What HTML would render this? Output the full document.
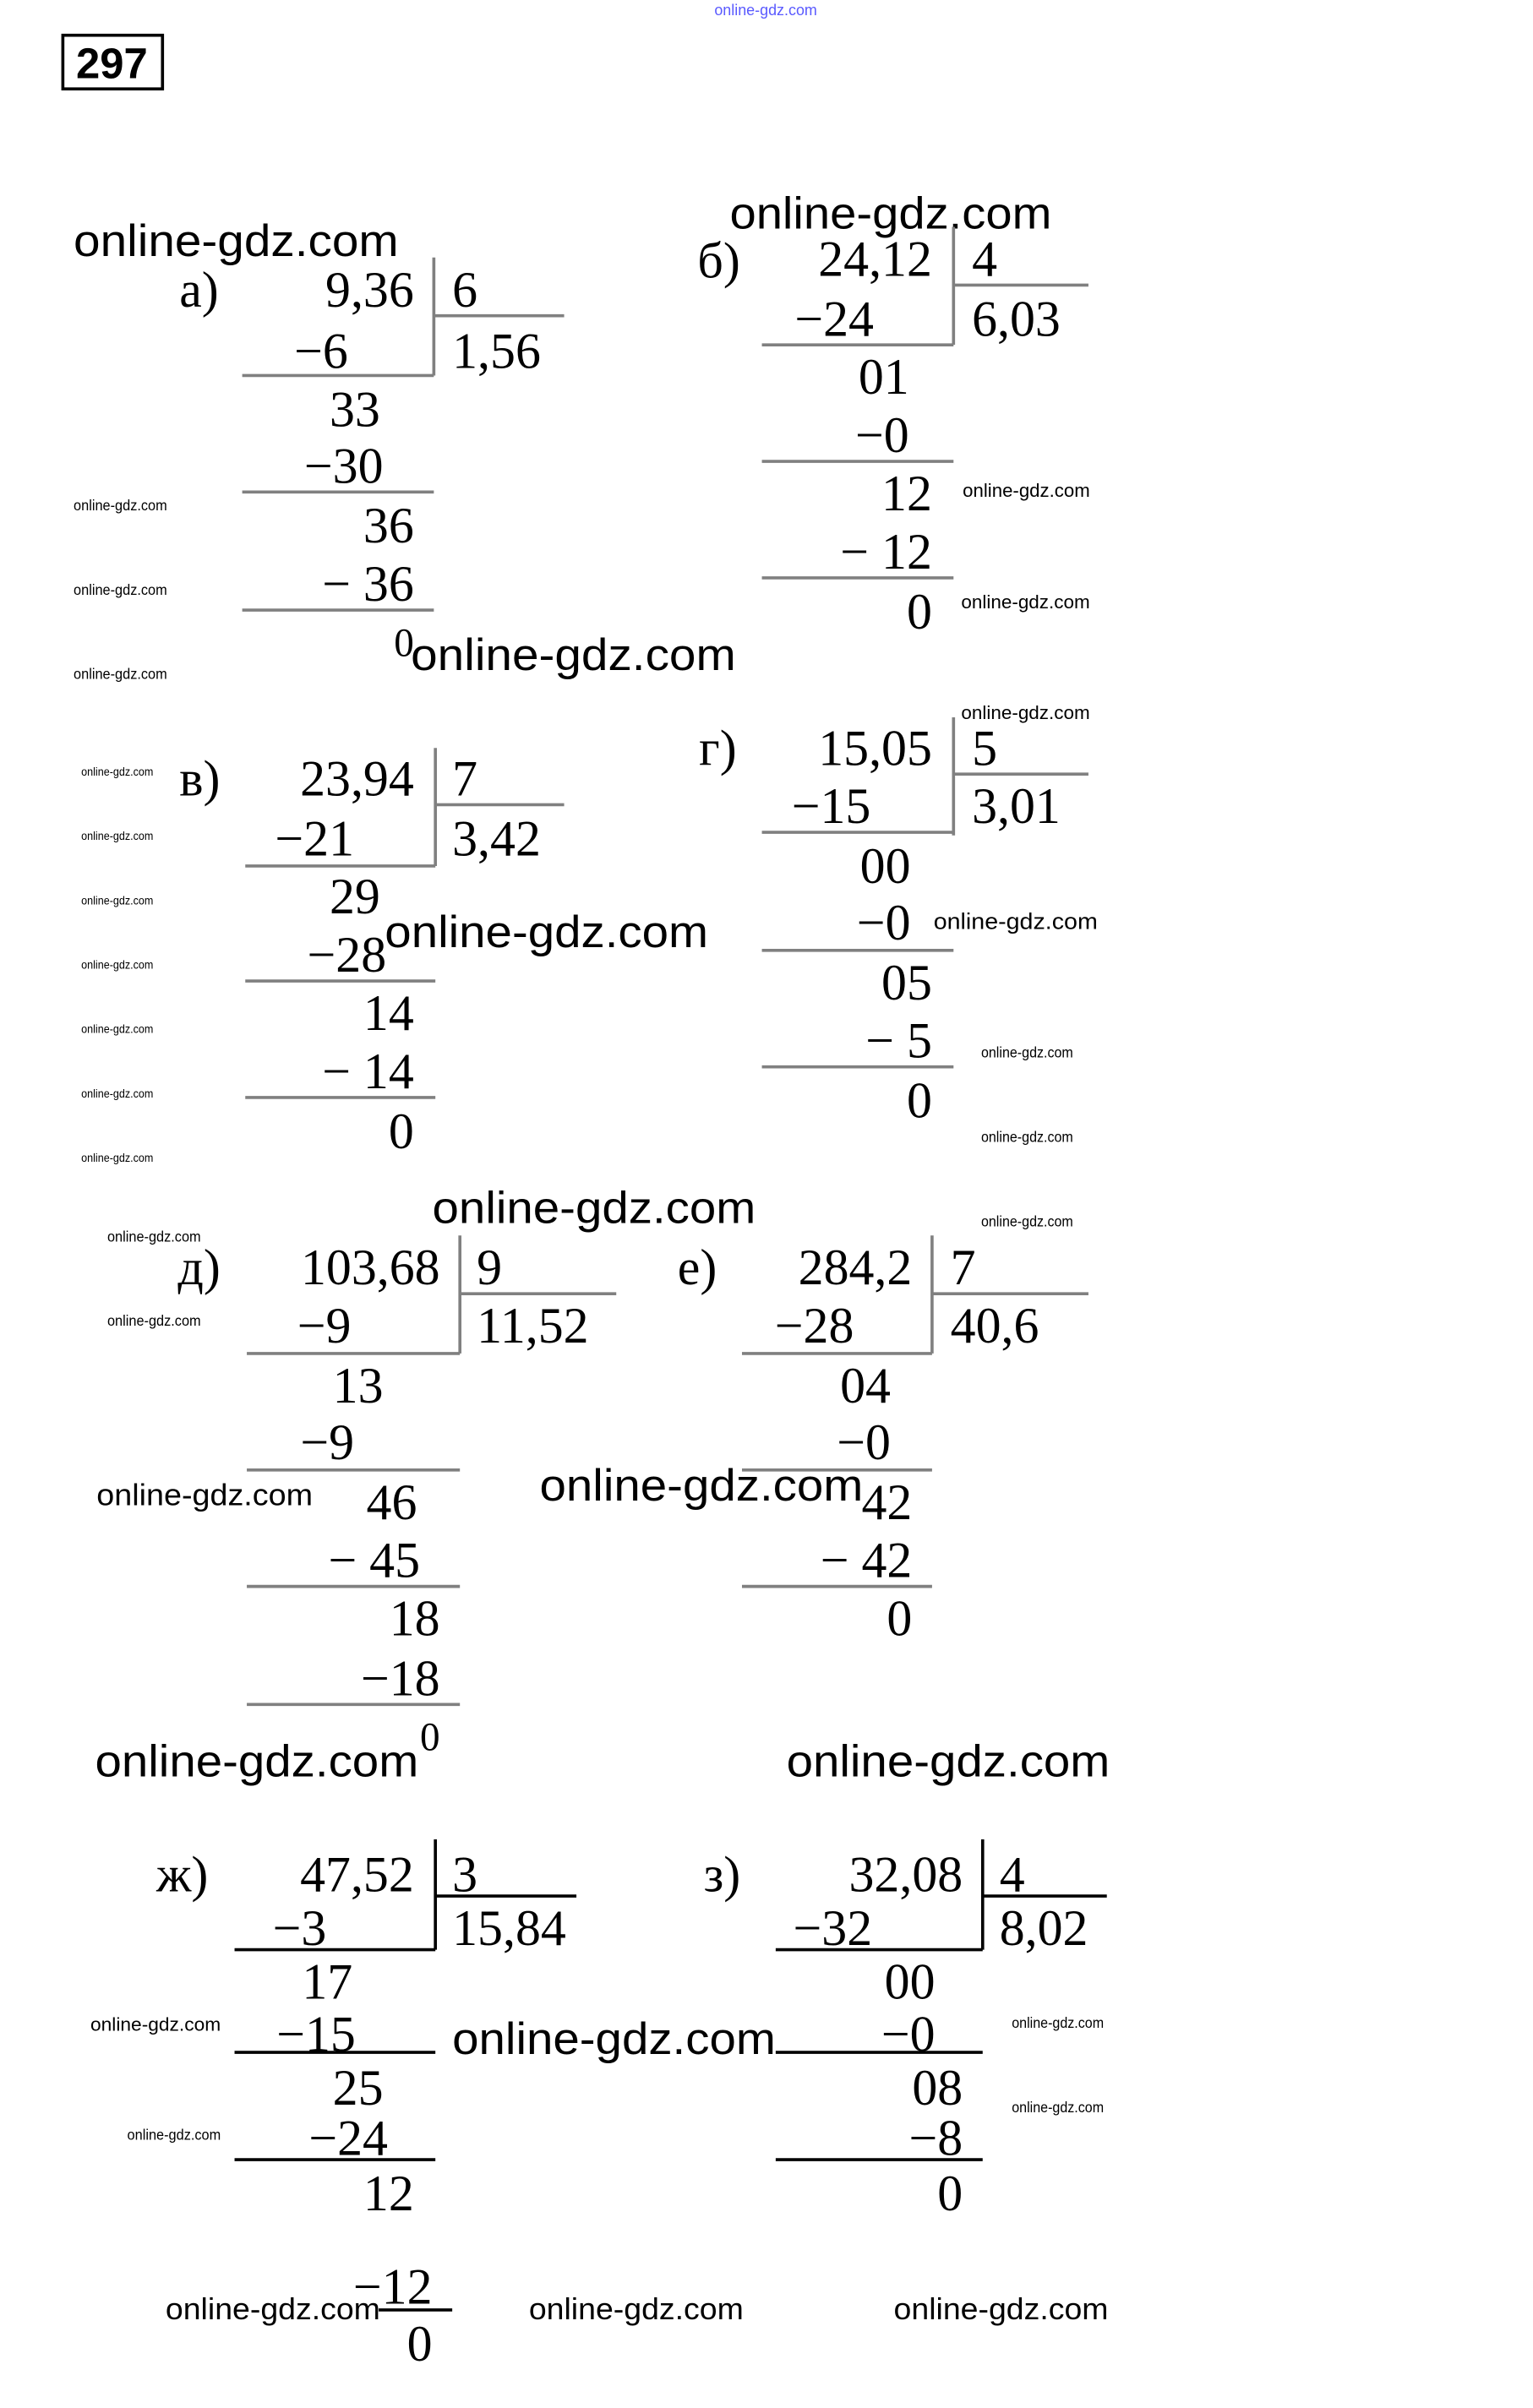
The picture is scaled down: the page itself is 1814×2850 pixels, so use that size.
<!DOCTYPE html>
<html><head><meta charset="utf-8"><style>
html,body{margin:0;padding:0;background:#fff;}
svg{display:block}
.n{font-family:"Liberation Serif",serif;font-size:33px;fill:#000}
.w{font-family:"Liberation Sans",sans-serif;fill:#000}
.g{stroke:#808080;stroke-width:2;fill:none}
.k{stroke:#000;stroke-width:2;fill:none}
</style></head><body>
<svg width="1814" height="2850" viewBox="0 0 1000 1571" preserveAspectRatio="none" xmlns="http://www.w3.org/2000/svg">
<rect width="1000" height="1571" fill="#fff"/>
<text class="w" x="466" y="10" font-size="10" fill="#5a5aff" style="fill:#5a5aff" textLength="67" lengthAdjust="spacingAndGlyphs">online-gdz.com</text>
<rect x="41" y="23" width="65" height="35" fill="none" stroke="#000" stroke-width="2"/>
<text x="73" y="51" text-anchor="middle" font-family="Liberation Sans, sans-serif" font-weight="bold" font-size="28">297</text>

<!-- big watermarks -->
<g class="w" font-size="29">
<text x="48" y="167" textLength="212" lengthAdjust="spacingAndGlyphs">online-gdz.com</text>
<text x="476" y="149" textLength="210" lengthAdjust="spacingAndGlyphs">online-gdz.com</text>
<text x="268" y="437" textLength="212" lengthAdjust="spacingAndGlyphs">online-gdz.com</text>
<text x="251" y="618" textLength="211" lengthAdjust="spacingAndGlyphs">online-gdz.com</text>
<text x="282" y="798" textLength="211" lengthAdjust="spacingAndGlyphs">online-gdz.com</text>
<text x="352" y="979" textLength="211" lengthAdjust="spacingAndGlyphs">online-gdz.com</text>
<text x="62" y="1159" textLength="211" lengthAdjust="spacingAndGlyphs">online-gdz.com</text>
<text x="513" y="1159" textLength="211" lengthAdjust="spacingAndGlyphs">online-gdz.com</text>
<text x="295" y="1340" textLength="211" lengthAdjust="spacingAndGlyphs">online-gdz.com</text>
</g>
<g class="w" font-size="20">
<text x="63" y="982" textLength="141" lengthAdjust="spacingAndGlyphs">online-gdz.com</text>
<text x="108" y="1513" textLength="140" lengthAdjust="spacingAndGlyphs">online-gdz.com</text>
<text x="345" y="1513" textLength="140" lengthAdjust="spacingAndGlyphs">online-gdz.com</text>
<text x="583" y="1513" textLength="140" lengthAdjust="spacingAndGlyphs">online-gdz.com</text>
</g>
<g class="w" font-size="15">
<text x="609" y="606" textLength="107" lengthAdjust="spacingAndGlyphs">online-gdz.com</text>
</g>
<g class="w" font-size="12">
<text x="628" y="324" textLength="83" lengthAdjust="spacingAndGlyphs">online-gdz.com</text>
<text x="627" y="397" textLength="84" lengthAdjust="spacingAndGlyphs">online-gdz.com</text>
<text x="627" y="469" textLength="84" lengthAdjust="spacingAndGlyphs">online-gdz.com</text>
<text x="59" y="1325" textLength="85" lengthAdjust="spacingAndGlyphs">online-gdz.com</text>
</g>
<g class="w" font-size="9.5">
<text x="48" y="333" textLength="61" lengthAdjust="spacingAndGlyphs">online-gdz.com</text>
<text x="48" y="388" textLength="61" lengthAdjust="spacingAndGlyphs">online-gdz.com</text>
<text x="48" y="443" textLength="61" lengthAdjust="spacingAndGlyphs">online-gdz.com</text>
<text x="640" y="690" textLength="60" lengthAdjust="spacingAndGlyphs">online-gdz.com</text>
<text x="640" y="745" textLength="60" lengthAdjust="spacingAndGlyphs">online-gdz.com</text>
<text x="640" y="800" textLength="60" lengthAdjust="spacingAndGlyphs">online-gdz.com</text>
<text x="70" y="810" textLength="61" lengthAdjust="spacingAndGlyphs">online-gdz.com</text>
<text x="70" y="865" textLength="61" lengthAdjust="spacingAndGlyphs">online-gdz.com</text>
<text x="83" y="1396" textLength="61" lengthAdjust="spacingAndGlyphs">online-gdz.com</text>
<text x="660" y="1323" textLength="60" lengthAdjust="spacingAndGlyphs">online-gdz.com</text>
<text x="660" y="1378" textLength="60" lengthAdjust="spacingAndGlyphs">online-gdz.com</text>
</g>
<g class="w" font-size="7.5">
<text x="53" y="506" textLength="47" lengthAdjust="spacingAndGlyphs">online-gdz.com</text>
<text x="53" y="548" textLength="47" lengthAdjust="spacingAndGlyphs">online-gdz.com</text>
<text x="53" y="590" textLength="47" lengthAdjust="spacingAndGlyphs">online-gdz.com</text>
<text x="53" y="632" textLength="47" lengthAdjust="spacingAndGlyphs">online-gdz.com</text>
<text x="53" y="674" textLength="47" lengthAdjust="spacingAndGlyphs">online-gdz.com</text>
<text x="53" y="716" textLength="47" lengthAdjust="spacingAndGlyphs">online-gdz.com</text>
<text x="53" y="758" textLength="47" lengthAdjust="spacingAndGlyphs">online-gdz.com</text>
</g>

<!-- а) -->
<g class="n">
<text x="117" y="200">а)</text>
<text x="270" y="200" text-anchor="end">9,36</text>
<text x="295" y="200">6</text>
<text x="227" y="240" text-anchor="end">−6</text>
<text x="295" y="240">1,56</text>
<text x="248" y="278" text-anchor="end">33</text>
<text x="250" y="315" text-anchor="end">−30</text>
<text x="270" y="354" text-anchor="end">36</text>
<text x="270" y="392" text-anchor="end">− 36</text>
<text x="270" y="428" text-anchor="end" font-size="26">0</text>
</g>
<path class="g" d="M283 168V245M283 206H368M158 245H283M158 321H283M158 398H283"/>

<!-- б) -->
<g class="n">
<text x="455" y="181">б)</text>
<text x="608" y="180" text-anchor="end">24,12</text>
<text x="634" y="180">4</text>
<text x="570" y="219" text-anchor="end">−24</text>
<text x="634" y="219">6,03</text>
<text x="593" y="257" text-anchor="end">01</text>
<text x="593" y="295" text-anchor="end">−0</text>
<text x="608" y="333" text-anchor="end">12</text>
<text x="608" y="371" text-anchor="end">− 12</text>
<text x="608" y="410" text-anchor="end">0</text>
</g>
<path class="g" d="M622 148V225M622 186H710M497 225H622M497 301H622M497 377H622"/>

<!-- в) -->
<g class="n">
<text x="117" y="519">в)</text>
<text x="270" y="519" text-anchor="end">23,94</text>
<text x="295" y="519">7</text>
<text x="231" y="558" text-anchor="end">−21</text>
<text x="295" y="558">3,42</text>
<text x="248" y="596" text-anchor="end">29</text>
<text x="252" y="634" text-anchor="end">−28</text>
<text x="270" y="672" text-anchor="end">14</text>
<text x="270" y="710" text-anchor="end">− 14</text>
<text x="270" y="749" text-anchor="end">0</text>
</g>
<path class="g" d="M284 488V565M284 525H368M160 565H284M160 640H284M160 716H284"/>

<!-- г) -->
<g class="n">
<text x="456" y="499">г)</text>
<text x="608" y="499" text-anchor="end">15,05</text>
<text x="634" y="499">5</text>
<text x="568" y="537" text-anchor="end">−15</text>
<text x="634" y="537">3,01</text>
<text x="594" y="576" text-anchor="end">00</text>
<text x="594" y="613" text-anchor="end">−0</text>
<text x="608" y="652" text-anchor="end">05</text>
<text x="608" y="690" text-anchor="end">− 5</text>
<text x="608" y="729" text-anchor="end">0</text>
</g>
<path class="g" d="M622 468V545M622 505H710M497 543H622M497 620H622M497 696H622"/>

<!-- д) -->
<g class="n">
<text x="116" y="838">д)</text>
<text x="287" y="838" text-anchor="end">103,68</text>
<text x="311" y="838">9</text>
<text x="229" y="876" text-anchor="end">−9</text>
<text x="311" y="876">11,52</text>
<text x="250" y="915" text-anchor="end">13</text>
<text x="231" y="952" text-anchor="end">−9</text>
<text x="272" y="991" text-anchor="end">46</text>
<text x="274" y="1029" text-anchor="end">− 45</text>
<text x="287" y="1067" text-anchor="end">18</text>
<text x="287" y="1106" text-anchor="end">−18</text>
<text x="287" y="1142" text-anchor="end" font-size="26">0</text>
</g>
<path class="g" d="M300 806V883M300 844H402M161 883H300M161 959H300M161 1035H300M161 1112H300"/>

<!-- е) -->
<g class="n">
<text x="442" y="838">е)</text>
<text x="595" y="838" text-anchor="end">284,2</text>
<text x="620" y="838">7</text>
<text x="557" y="876" text-anchor="end">−28</text>
<text x="620" y="876">40,6</text>
<text x="581" y="915" text-anchor="end">04</text>
<text x="581" y="952" text-anchor="end">−0</text>
<text x="595" y="991" text-anchor="end">42</text>
<text x="595" y="1029" text-anchor="end">− 42</text>
<text x="595" y="1067" text-anchor="end">0</text>
</g>
<path class="g" d="M608 806V883M608 844H710M484 883H608M484 959H608M484 1035H608"/>

<!-- ж) -->
<g class="n">
<text x="102" y="1234">ж)</text>
<text x="270" y="1234" text-anchor="end">47,52</text>
<text x="295" y="1234">3</text>
<text x="213" y="1269" text-anchor="end">−3</text>
<text x="295" y="1269">15,84</text>
<text x="230" y="1304" text-anchor="end">17</text>
<text x="232" y="1338" text-anchor="end">−15</text>
<text x="250" y="1373" text-anchor="end">25</text>
<text x="253" y="1406" text-anchor="end">−24</text>
<text x="270" y="1442" text-anchor="end">12</text>
<text x="282" y="1503" text-anchor="end">−12</text>
<text x="282" y="1540" text-anchor="end">0</text>
</g>
<path class="k" d="M284 1200V1272M284 1237H376M153 1272H284M153 1339H284M153 1409H284M247 1507H295"/>

<!-- з) -->
<g class="n">
<text x="459" y="1234">з)</text>
<text x="628" y="1234" text-anchor="end">32,08</text>
<text x="652" y="1234">4</text>
<text x="569" y="1269" text-anchor="end">−32</text>
<text x="652" y="1269">8,02</text>
<text x="610" y="1304" text-anchor="end">00</text>
<text x="610" y="1338" text-anchor="end">−0</text>
<text x="628" y="1373" text-anchor="end">08</text>
<text x="628" y="1406" text-anchor="end">−8</text>
<text x="628" y="1442" text-anchor="end">0</text>
</g>
<path class="k" d="M641 1200V1272M641 1237H722M506 1272H641M506 1339H641M506 1409H641"/>
</svg>
</body></html>
